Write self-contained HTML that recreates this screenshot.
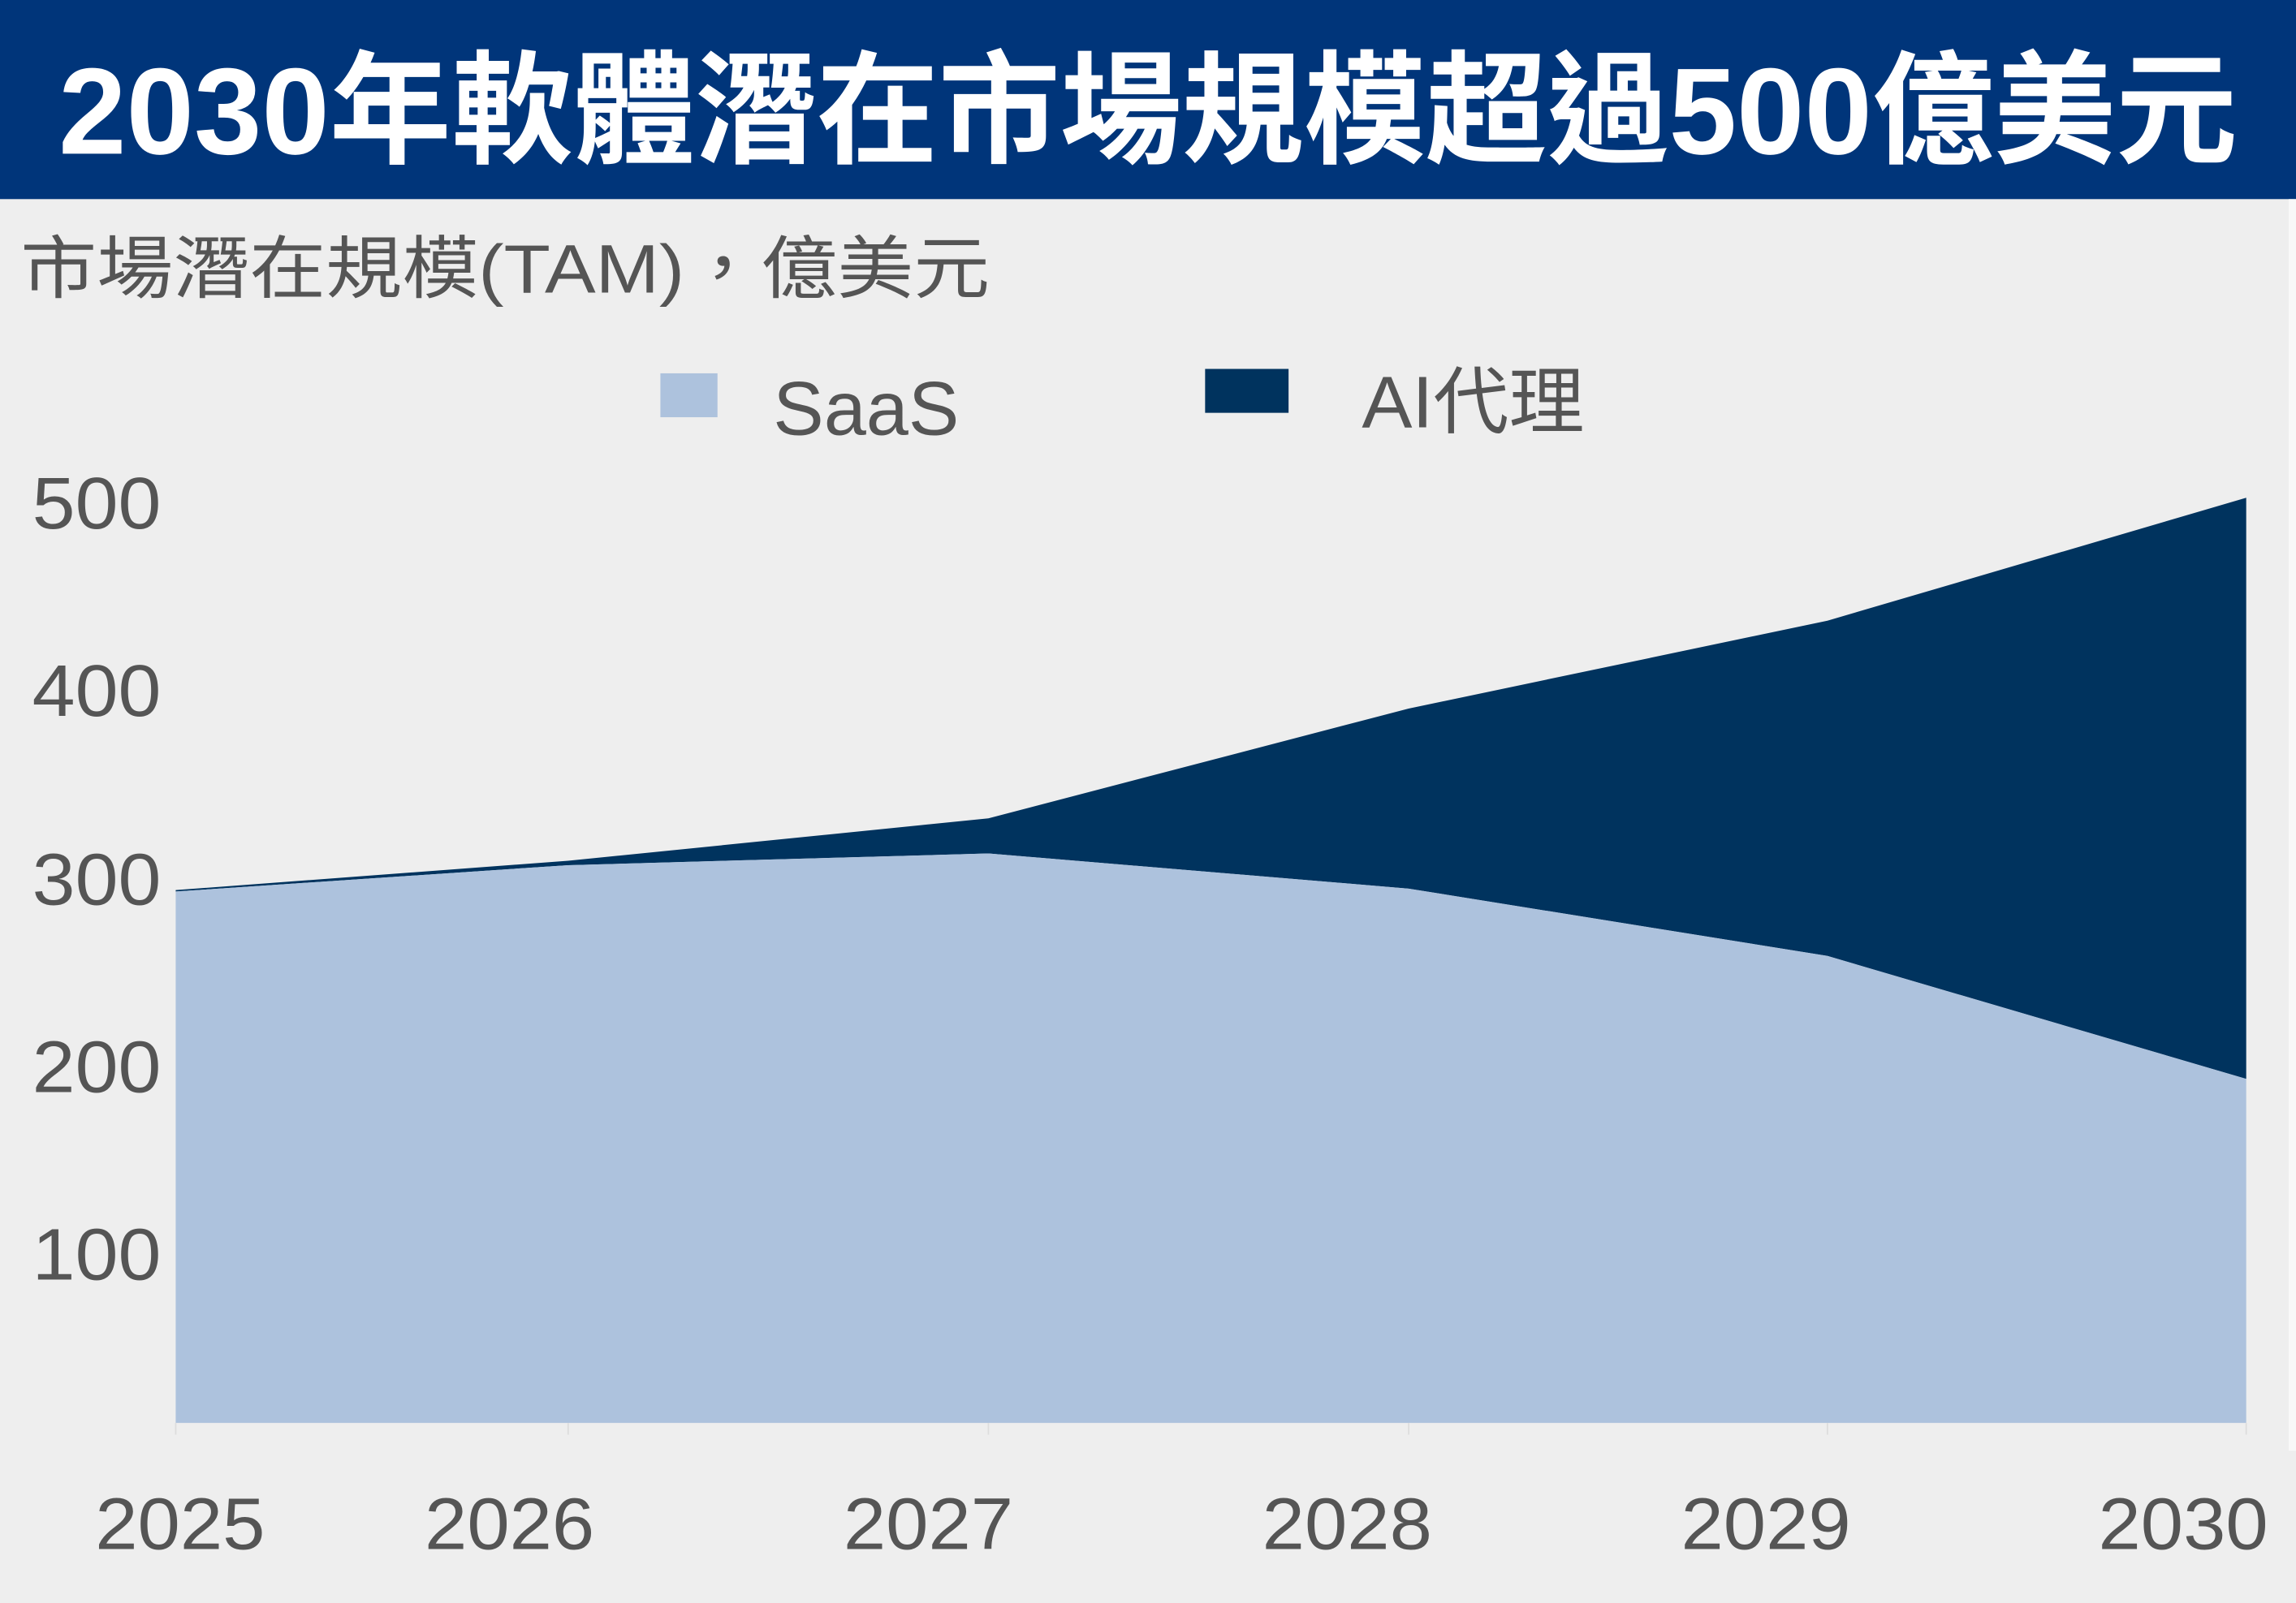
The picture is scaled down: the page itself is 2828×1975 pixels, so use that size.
<!DOCTYPE html>
<html><head><meta charset="utf-8"><style>
html,body{margin:0;padding:0;background:#eeeeee;}
svg{display:block;}
</style></head><body>
<svg width="2828" height="1975" viewBox="0 0 1568 1095" preserveAspectRatio="none" xmlns="http://www.w3.org/2000/svg">
<rect x="0" y="0" width="1568" height="1095" fill="#eeeeee"/>
<rect x="0" y="0" width="1568" height="136" fill="#00357a"/>
<text x="40" y="105" font-family="Liberation Sans, Noto Sans CJK TC, sans-serif" font-weight="bold" font-size="84" fill="#ffffff" textLength="1488" lengthAdjust="spacingAndGlyphs">2030年軟體潛在市場規模超過500億美元</text>
<rect x="1563" y="136" width="5" height="855" fill="#f8f8f8"/>
<text x="14" y="200" font-family="Liberation Sans, Noto Sans CJK TC, sans-serif" font-size="47" fill="#555555" textLength="662" lengthAdjust="spacingAndGlyphs">市場潛在規模(TAM)，億美元</text>
<rect x="451" y="255" width="39" height="30" fill="#adc2dd"/>
<text x="528" y="297" font-family="Liberation Sans, sans-serif" font-size="52" fill="#555555" textLength="127" lengthAdjust="spacingAndGlyphs">SaaS</text>
<rect x="823" y="252" width="57" height="30" fill="#00335e"/>
<text x="930" y="292" font-family="Liberation Sans, Noto Sans CJK TC, sans-serif" font-size="50" fill="#555555" textLength="152" lengthAdjust="spacingAndGlyphs">AI代理</text>
<g font-family="Liberation Sans, sans-serif" font-size="50" fill="#555555">
<text x="22" y="361" textLength="88" lengthAdjust="spacingAndGlyphs">500</text>
<text x="22" y="489" textLength="88" lengthAdjust="spacingAndGlyphs">400</text>
<text x="22" y="618" textLength="88" lengthAdjust="spacingAndGlyphs">300</text>
<text x="22" y="746" textLength="88" lengthAdjust="spacingAndGlyphs">200</text>
<text x="22" y="874" textLength="88" lengthAdjust="spacingAndGlyphs">100</text>
</g>
<polygon fill="#00335e" points="120,608 388,588 675,559 962,484 1248,424 1534,340 1534,737 1248,653 962,607 675,583 388,591 120,609"/>
<polygon fill="#adc2dd" points="120,609 388,591 675,583 962,607 1248,653 1534,737 1534,972 120,972"/>
<g stroke="#dddddd" stroke-width="1">
<line x1="120" y1="972" x2="120" y2="980"/><line x1="388" y1="972" x2="388" y2="980"/><line x1="675" y1="972" x2="675" y2="980"/><line x1="962" y1="972" x2="962" y2="980"/><line x1="1248" y1="972" x2="1248" y2="980"/><line x1="1534" y1="972" x2="1534" y2="980"/>
</g>
<g font-family="Liberation Sans, sans-serif" font-size="50" fill="#555555">
<text x="65" y="1058" textLength="116" lengthAdjust="spacingAndGlyphs">2025</text>
<text x="290" y="1058" textLength="116" lengthAdjust="spacingAndGlyphs">2026</text>
<text x="576" y="1058" textLength="116" lengthAdjust="spacingAndGlyphs">2027</text>
<text x="862" y="1058" textLength="116" lengthAdjust="spacingAndGlyphs">2028</text>
<text x="1148" y="1058" textLength="116" lengthAdjust="spacingAndGlyphs">2029</text>
<text x="1433" y="1058" textLength="116" lengthAdjust="spacingAndGlyphs">2030</text>
</g>
</svg>
</body></html>
